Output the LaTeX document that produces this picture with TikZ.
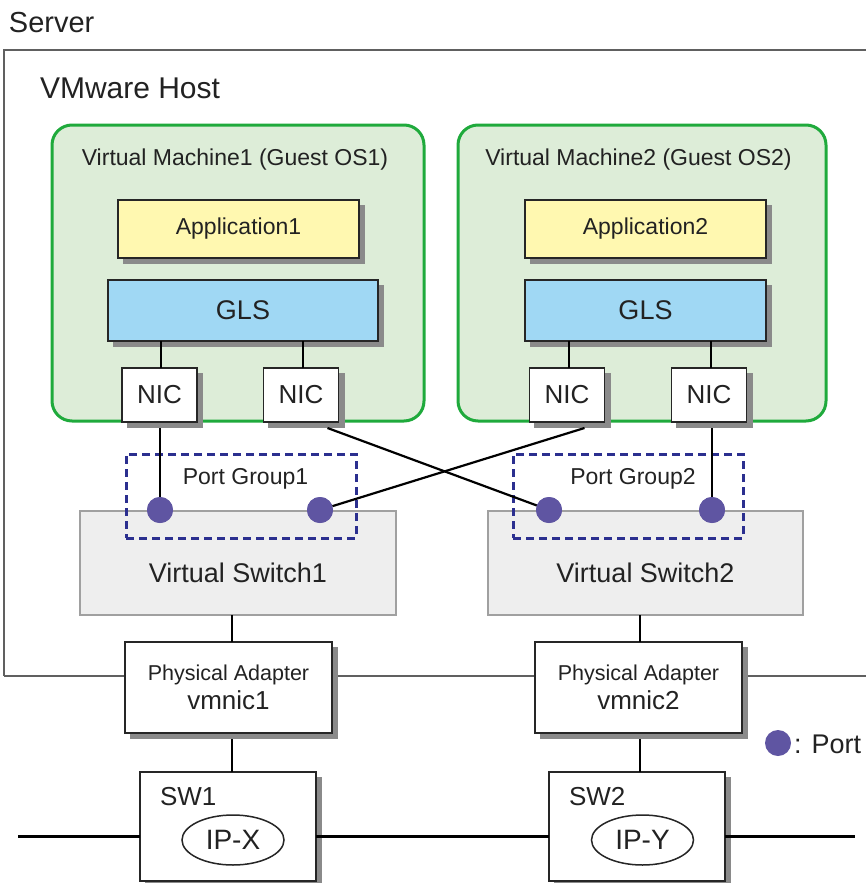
\documentclass[tikz,border=0pt]{standalone}
\usepackage{fontspec}
\setmainfont{Liberation Sans}
\usetikzlibrary{shapes.geometric}
\definecolor{vmfill}{HTML}{DDEDD8}
\definecolor{vmline}{HTML}{1FAA3C}
\definecolor{appfill}{HTML}{FFF8B0}
\definecolor{glsfill}{HTML}{A0D8F4}
\definecolor{pgline}{HTML}{2B2F8F}
\definecolor{portfill}{HTML}{5F55A2}
\definecolor{vsfill}{HTML}{EEEEEE}
\definecolor{vsline}{HTML}{A0A0A0}
\definecolor{frameline}{HTML}{606060}
\definecolor{shadowc}{HTML}{8A8A8A}
\definecolor{txt}{HTML}{222222}
\newcommand\fsz[1]{\fontsize{#1}{#1}\selectfont}
\begin{document}
\begin{tikzpicture}[x=1pt,y=-1pt,
  every node/.style={inner sep=0pt, outer sep=0pt, text=txt},
  shadowed/.style={preaction={draw=shadowc, fill=shadowc, transform canvas={xshift=5.5pt,yshift=-5.5pt}}},
  box/.style={draw=black!85, line width=1.8pt, shadowed},
  vmbox/.style={draw=vmline, fill=vmfill, line width=3pt, rounded corners=20pt},
  appbox/.style={box, fill=appfill, minimum width=241pt, minimum height=58pt, font=\fsz{23}},
  glsbox/.style={box, fill=glsfill, minimum height=61pt, font=\fsz{27}},
  nicbox/.style={box, fill=white, minimum width=75pt, minimum height=54pt, font=\fsz{26}},
  pgbox/.style={draw=pgline, line width=3pt, dash pattern=on 8pt off 5pt, minimum width=230pt, minimum height=84pt},
  port/.style={circle, fill=portfill, minimum size=26pt},
  vsbox/.style={draw=vsline, fill=vsfill, line width=1.5pt, minimum width=316pt, minimum height=104pt},
  pabox/.style={box, fill=white, minimum width=207pt, minimum height=91pt, align=center},
  swbox/.style={box, fill=white, minimum width=176pt, minimum height=109pt},
  ipell/.style={ellipse, draw=black!85, line width=1.5pt, fill=white, minimum width=102pt, minimum height=50pt, font=\fsz{28}},
  conn/.style={draw=black, line width=2.2pt},
]
\useasboundingbox (0,0) rectangle (866,883);

% Server frame
\coordinate (srvTR) at (866,50);
\coordinate (srvTL) at (4,50);
\coordinate (srvBL) at (4,676);
\coordinate (srvBR) at (866,676);
\node[font=\fsz{29}, anchor=west] (server) at (9,23) {Server};
\node[font=\fsz{30}, anchor=west] (host) at (40,88) {VMware Host};

% Virtual machines
\draw[vmbox] (52,125) rectangle (424,421);
\draw[vmbox] (458,125) rectangle (826,421);
\node[font=\fsz{23}] (vm1t) at (235,160) {Virtual Machine1 (Guest OS1)};
\node[font=\fsz{23}] (vm2t) at (638.5,160) {Virtual Machine2 (Guest OS2)};

\node[appbox] (app1) at (238.5,229) {Application1};
\node[appbox] (app2) at (645.5,229) {Application2};
\node[glsbox, minimum width=270pt] (gls1) at (243,310.5) {GLS};
\node[glsbox, minimum width=241pt] (gls2) at (645.5,310.5) {GLS};

\coordinate (n1a) at (161,368);
\coordinate (n1b) at (303,368);
\coordinate (n2a) at (569,368);
\coordinate (n2b) at (711,368);

\node[nicbox] (nic1a) at (159.5,395) {NIC};
\node[nicbox] (nic1b) at (301,395) {NIC};
\node[nicbox] (nic2a) at (567,395) {NIC};
\node[nicbox] (nic2b) at (709,395) {NIC};
\draw[conn] (nic1a.north -| n1a) -- (gls1.south -| n1a);
\draw[conn] (nic1b.north -| n1b) -- (gls1.south -| n1b);
\draw[conn] (nic2a.north -| n2a) -- (gls2.south -| n2a);
\draw[conn] (nic2b.north -| n2b) -- (gls2.south -| n2b);

% Server frame lines
\draw[frameline, line width=2.2pt] (srvTR) -- (srvTL) -- (srvBL);

% Virtual switches
\node[vsbox] (vs1) at (238,563) {};
\node[vsbox, minimum width=315pt] (vs2) at (645.5,563) {};
\node[font=\fsz{27}] (vs1t) at (238,573) {Virtual Switch1};
\node[font=\fsz{27}] (vs2t) at (645.5,573) {Virtual Switch2};

% Port groups
\node[pgbox] (pg1) at (241,496) {};
\node[pgbox] (pg2) at (628,496) {};
\node[font=\fsz{23}] (pg1t) at (245.5,479) {Port Group1};
\node[font=\fsz{23}] (pg2t) at (633,479) {Port Group2};

% Ports
\node[port] (p1) at (160,510) {};
\node[port] (p2) at (320,510) {};
\node[port] (p3) at (549,510) {};
\node[port] (p4) at (712,510) {};

% NIC - port connectors
\draw[conn] ([yshift=-6pt]nic1a.south -| p1) -- (p1);
\draw[conn] ([xshift=-11pt,yshift=-6pt]nic1b.south east) -- (p3);
\draw[conn] ([xshift=-20pt,yshift=-6pt]nic2a.south east) -- (p2);
\draw[conn] ([yshift=-6pt]nic2b.south -| p4) -- (p4);
\node[port] at (p1) {};
\node[port] at (p2) {};
\node[port] at (p3) {};
\node[port] at (p4) {};

% Physical adapters
\coordinate (va) at (232,0);
\coordinate (vb) at (640,0);
\draw[frameline, line width=2.2pt] (srvBL) -- (srvBR);
\node[pabox] (pa1) at (228.5,687.5) {{\fsz{21.5}Physical Adapter}\\[5pt]{\fsz{26}vmnic1}};
\node[pabox] (pa2) at (638.5,687.5) {{\fsz{21.5}Physical Adapter}\\[5pt]{\fsz{26}vmnic2}};
\draw[conn] (vs1.south -| va) -- (pa1.north -| va);
\draw[conn] (vs2.south -| vb) -- (pa2.north -| vb);

% Physical switches
\coordinate (busL) at (18,836);
\coordinate (busR) at (855,836);
\node[swbox] (sw1) at (228,826.5) {};
\node[swbox] (sw2) at (637,826.5) {};
\draw[conn] ([yshift=-6pt]pa1.south -| va) -- (sw1.north -| va);
\draw[conn] ([yshift=-6pt]pa2.south -| vb) -- (sw2.north -| vb);
\draw[line width=3pt] (busL) -- (busL -| sw1.west);
\draw[line width=3pt] (busL -| sw1.east) -- (busL -| sw2.west);
\draw[line width=3pt] (busL -| sw2.east) -- (busR);
\node[font=\fsz{26}, anchor=west] (sw1t) at (160,797) {SW1};
\node[font=\fsz{26}, anchor=west] (sw2t) at (569,797) {SW2};
\node[ipell] (ipx) at (233,840) {IP-X};
\node[ipell] (ipy) at (642.5,840) {IP-Y};

% Legend
\node[port] (lport) at (778,743) {};
\node[font=\fsz{27}, anchor=west] (ltext) at (794,744) {: Port};
\end{tikzpicture}
\end{document}
